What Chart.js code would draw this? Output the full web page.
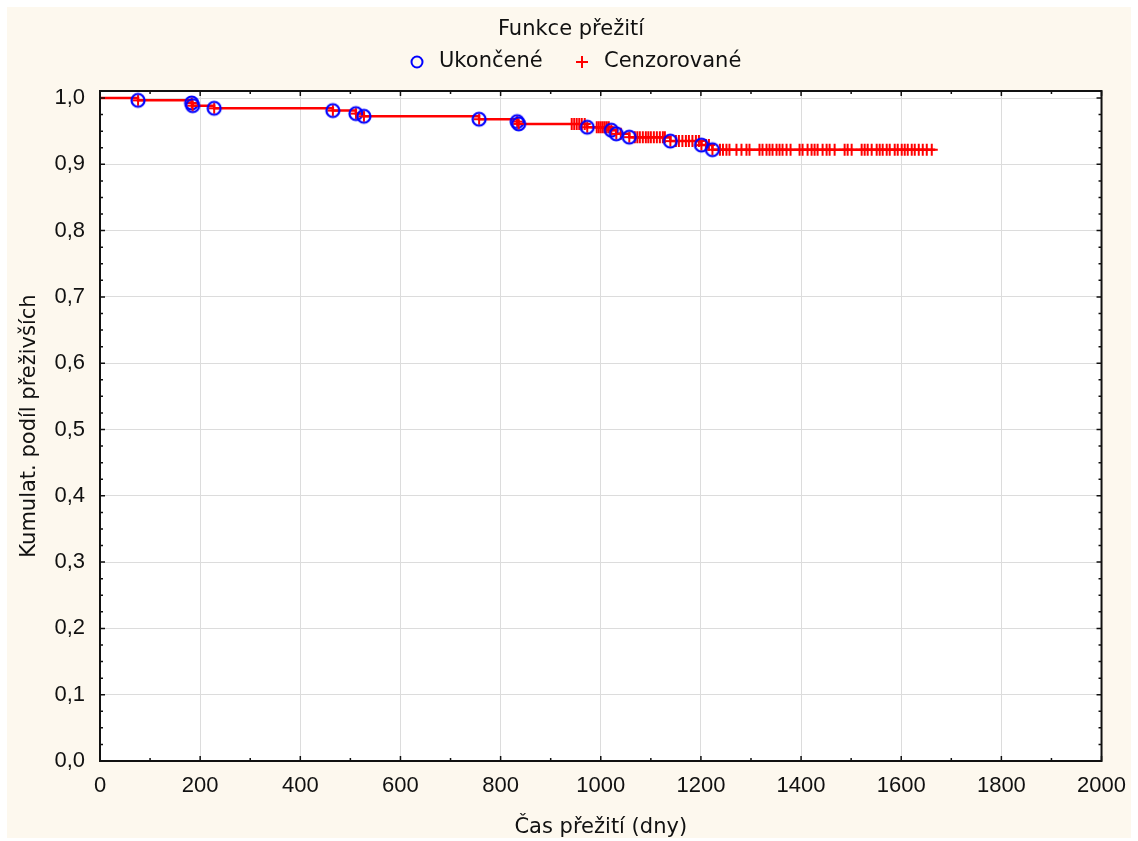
<!DOCTYPE html>
<html>
<head>
<meta charset="utf-8">
<script src="https://cdn.jsdelivr.net/npm/chart.js@4.4.1/dist/chart.umd.min.js"></script>
<style>
  html, body { margin: 0; padding: 0; background: #fff; }
  canvas { display: block; }
</style>
</head>
<body>
<canvas id="km" width="1138" height="841"></canvas>
<script>
// Ukoncene (events): time in days and cumulative survival after the event
const eventTimes = [76, 183, 185, 228, 465, 511, 527, 757, 833, 836, 973, 1021, 1031, 1057, 1139, 1201, 1223];
const eventSurv  = [0.9965, 0.9925, 0.9885, 0.9845, 0.981, 0.9765, 0.9725, 0.968, 0.9645, 0.961, 0.956, 0.9515, 0.946, 0.941, 0.935, 0.929, 0.922];

// Cenzorovane (censored) times in days
const censoredTimes = [
  942, 947, 952, 957, 962, 968,
  992, 996, 1000, 1004, 1008, 1012, 1016,
  1040,
  1068, 1073, 1078, 1084, 1090, 1095, 1100, 1106, 1112, 1118, 1124, 1128,
  1150, 1156, 1163, 1170, 1176, 1183, 1190, 1196,
  1210, 1216,
  1238, 1244, 1251, 1257, 1271, 1281, 1291, 1297, 1317, 1323, 1331, 1337, 1343, 1351,
  1357, 1363, 1371, 1379, 1397, 1403, 1413, 1421, 1427, 1433, 1443, 1451, 1457, 1467,
  1487, 1493, 1501, 1521, 1527, 1533, 1541, 1551, 1557, 1563, 1571, 1577, 1587,
  1593, 1601, 1607, 1613, 1621, 1627, 1635, 1643, 1651, 1661
];
const lastFollowUp = 1668;

const legendTitle = 'Funkce přežití';
const seriesNames = ['Ukončené', 'Cenzorované'];
const xTitle = 'Čas přežití (dny)';
const yTitle = 'Kumulat. podíl přeživších';

const CREAM = '#fdf8ee';
const TEXT_FONT = '"DejaVu Sans", sans-serif';
const TICK_FONT = '"Liberation Sans", Arial, sans-serif';

// survival level at time t (step function from the events)
function survAt(t) {
  let s = 1;
  for (let i = 0; i < eventTimes.length; i++) {
    if (eventTimes[i] <= t) s = eventSurv[i];
  }
  return s;
}

const linePoints = [{ x: 0, y: 1 }]
  .concat(eventTimes.map((t, i) => ({ x: t, y: eventSurv[i] })))
  .concat([{ x: lastFollowUp, y: eventSurv[eventSurv.length - 1] }]);
const eventPoints = eventTimes.map((t, i) => ({ x: t, y: eventSurv[i] }));
const censoredPoints = censoredTimes.map(t => ({ x: t, y: survAt(t) }));

// marker for events: blue circle with the red cross of the curve inside
function eventMarker() {
  const c = document.createElement('canvas');
  c.width = 18; c.height = 18;
  const g = c.getContext('2d');
  g.strokeStyle = '#ff0000';
  g.lineWidth = 2;
  g.beginPath();
  g.moveTo(9, 3.5); g.lineTo(9, 14.5);
  g.moveTo(3.5, 9); g.lineTo(14.5, 9);
  g.stroke();
  g.strokeStyle = '#0000ff';
  g.lineWidth = 2.2;
  g.beginPath();
  g.arc(9, 9, 6.5, 0, Math.PI * 2);
  g.stroke();
  return c;
}

const frame = {
  id: 'frame',
  beforeDraw(chart) {
    const { ctx, chartArea: a } = chart;
    ctx.save();
    ctx.fillStyle = '#fff';
    ctx.fillRect(0, 0, chart.width, chart.height);
    ctx.fillStyle = CREAM;
    ctx.fillRect(7, 7, 1124, 831);
    ctx.fillStyle = '#fff';
    ctx.fillRect(a.left, a.top, a.right - a.left, a.bottom - a.top);
    ctx.restore();
  },
  afterDraw(chart) {
    const { ctx, chartArea: a } = chart;
    const xs = chart.scales.x, ys = chart.scales.y;
    ctx.save();
    ctx.strokeStyle = '#111';
    ctx.lineWidth = 1.5;
    ctx.beginPath();
    // inward ticks on all four sides
    for (let v = 0; v <= 2000; v += 100) {
      const px = xs.getPixelForValue(v);
      const len = v % 200 === 0 ? 5 : 3;
      ctx.moveTo(px, a.bottom); ctx.lineTo(px, a.bottom - len);
      ctx.moveTo(px, a.top); ctx.lineTo(px, a.top + len);
    }
    for (let i = 0; i <= 40; i++) {
      const py = ys.getPixelForValue(i * 0.025);
      const len = i % 4 === 0 ? 5 : 3;
      ctx.moveTo(a.left, py); ctx.lineTo(a.left + len, py);
      ctx.moveTo(a.right, py); ctx.lineTo(a.right - len, py);
    }
    ctx.stroke();
    ctx.lineWidth = 2;
    ctx.strokeRect(a.left, a.top, a.right - a.left, a.bottom - a.top);

    // legend
    ctx.fillStyle = '#111';
    ctx.font = '21px ' + TEXT_FONT;
    ctx.textBaseline = 'middle';
    ctx.textAlign = 'center';
    ctx.fillText(legendTitle, 571, 30);
    ctx.textAlign = 'left';
    ctx.strokeStyle = '#0000ff';
    ctx.lineWidth = 2;
    ctx.beginPath();
    ctx.arc(417, 62, 5.5, 0, Math.PI * 2);
    ctx.stroke();
    ctx.fillText(seriesNames[0], 439, 62);
    ctx.strokeStyle = '#ff0000';
    ctx.beginPath();
    ctx.moveTo(576, 62); ctx.lineTo(588, 62);
    ctx.moveTo(582, 56); ctx.lineTo(582, 68);
    ctx.stroke();
    ctx.fillText(seriesNames[1], 604, 62);
    ctx.restore();
  }
};

new Chart(document.getElementById('km'), {
  type: 'scatter',
  data: {
    datasets: [
      {
        label: seriesNames[0],
        data: eventPoints,
        pointStyle: eventMarker(),
        pointRadius: 7,
        showLine: false,
        order: 0
      },
      {
        label: seriesNames[1],
        data: censoredPoints,
        pointStyle: 'cross',
        pointRadius: 6,
        borderColor: '#ff0000',
        borderWidth: 2,
        showLine: false,
        order: 1
      },
      {
        label: 'curve',
        data: linePoints,
        showLine: true,
        stepped: true,
        borderColor: '#ff0000',
        borderWidth: 2.5,
        pointRadius: 0,
        order: 2
      }
    ]
  },
  options: {
    responsive: false,
    animation: false,
    devicePixelRatio: 1,
    layout: { padding: { left: 0, right: 36, top: 91, bottom: 0 } },
    plugins: {
      legend: { display: false },
      tooltip: { enabled: false }
    },
    scales: {
      x: {
        type: 'linear',
        min: 0,
        max: 2000,
        afterFit(s) { s.height = 80; },
        border: { display: false },
        grid: { color: '#dcdcdc', lineWidth: 1, drawTicks: false },
        ticks: {
          stepSize: 200,
          padding: 12,
          color: '#111',
          font: { family: TICK_FONT, size: 22 },
          maxRotation: 0,
          callback: v => String(v)
        },
        title: {
          display: true,
          text: xTitle,
          color: '#111',
          font: { family: TEXT_FONT, size: 21 },
          padding: { top: 0, bottom: 1 }
        }
      },
      y: {
        type: 'linear',
        min: 0,
        max: 1.0106,
        afterFit(s) { s.width = 100; },
        border: { display: false },
        grid: { color: '#dcdcdc', lineWidth: 1, drawTicks: false },
        ticks: {
          stepSize: 0.1,
          includeBounds: false,
          padding: 15,
          color: '#111',
          font: { family: TICK_FONT, size: 22 },
          callback: v => v.toFixed(1).replace('.', ',')
        },
        title: {
          display: true,
          text: yTitle,
          color: '#111',
          font: { family: TEXT_FONT, size: 21 },
          padding: { top: 17, bottom: 0 }
        }
      }
    }
  },
  plugins: [frame]
});
</script>
</body>
</html>
